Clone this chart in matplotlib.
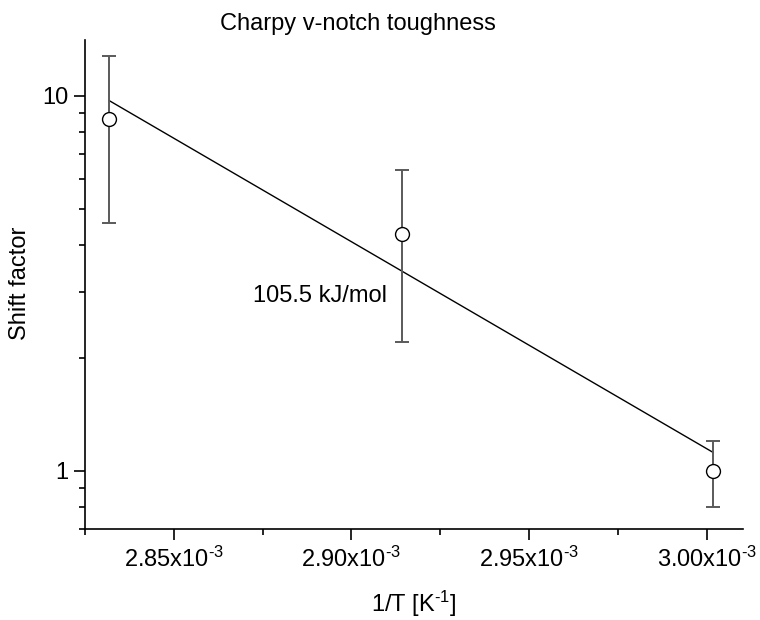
import matplotlib
matplotlib.use("Agg")
import matplotlib.pyplot as plt
from matplotlib.ticker import FuncFormatter, MultipleLocator, LogLocator, NullFormatter, FixedLocator

plt.rcParams['font.family'] = ['Liberation Sans', 'DejaVu Sans']
plt.rcParams['mathtext.fontset'] = 'custom'
plt.rcParams['mathtext.rm'] = 'Liberation Sans'
plt.rcParams['mathtext.it'] = 'Liberation Sans:italic'
plt.rcParams['mathtext.bf'] = 'Liberation Sans:bold'

# Data
inv_T = [2.8318e-3, 2.9141e-3, 3.0018e-3]
shift = [8.68, 4.28, 1.0]
shift_err = [4.1, 2.07, 0.2]
fit_x = [2.8318e-3, 3.0018e-3]
fit_y = [9.72, 1.12]
title = "Charpy v-notch toughness"
xlabel = "1/T [K$^{\\mathregular{\u2010}1}$]"
ylabel = "Shift factor"
annot = "105.5 kJ/mol"

W, H = 760, 620
fig = plt.figure(figsize=(7.6, 6.2), dpi=100)
ax = fig.add_axes([85 / W, 1 - 529 / H, (743 - 85) / W, (529 - 40) / H])

fs = 17
ax.plot(fit_x, fit_y, color='black', lw=1.0, zorder=2)
ax.errorbar(inv_T, shift, yerr=shift_err, fmt='none', ecolor='#5a5a5a',
            elinewidth=1.4, capsize=5, capthick=1.4, zorder=3)
ax.plot(inv_T, shift, 'o', mfc='white', mec='black', mew=1.0, ms=10, zorder=4)

ax.set_yscale('log')
ax.set_xlim(2.825e-3, 3.0102e-3)
ax.set_ylim(0.7, 14.1)

ax.xaxis.set_major_locator(MultipleLocator(0.05e-3))
ax.xaxis.set_minor_locator(MultipleLocator(0.025e-3))
ax.xaxis.set_major_formatter(FuncFormatter(
    lambda v, p: f"{v*1e3:.2f}x10$^{{\\mathregular{{\u2010}}3}}$"))
ax.yaxis.set_major_locator(FixedLocator([1, 10]))
ax.yaxis.set_major_formatter(FuncFormatter(lambda v, p: f"{v:g}"))
ax.yaxis.set_minor_locator(LogLocator(base=10, subs=range(2, 10)))
ax.yaxis.set_minor_formatter(NullFormatter())

for s in ['top', 'right']:
    ax.spines[s].set_visible(False)
for s in ['left', 'bottom']:
    ax.spines[s].set_linewidth(1.2)
ax.tick_params(which='major', length=8, width=1.2, labelsize=fs, pad=5)
ax.tick_params(which='minor', length=4, width=1.2)
ax.tick_params(axis='y', which='major', pad=4)

ax.text(2.9099e-3, 2.83, annot, fontsize=fs, ha='right', va='baseline')

fig.text(357.5 / W, 1 - 30 / H, title, fontsize=fs, ha='center', va='baseline')
fig.text(414 / W, 1 - 612 / H, xlabel, fontsize=fs, ha='center', va='baseline')
fig.text(20 / W, 1 - 283 / H, ylabel, fontsize=fs, ha='center', va='center', rotation=90)

fig.savefig('out.png', dpi=100)
